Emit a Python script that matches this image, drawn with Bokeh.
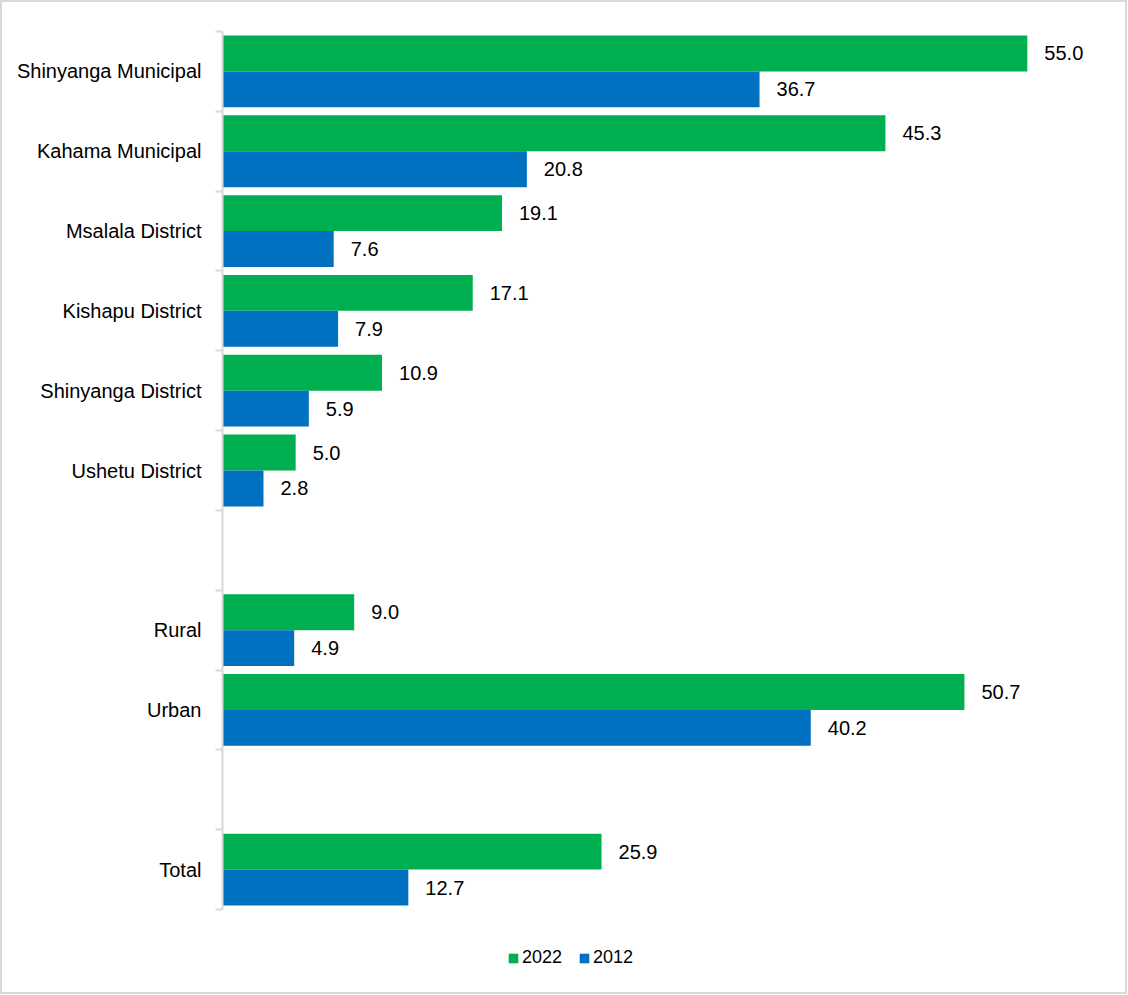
from bokeh.plotting import figure
from bokeh.models import Range1d, FixedTicker, ColumnDataSource, Legend, LegendItem
from bokeh.core.properties import value
from bokeh.embed import file_html
from bokeh.resources import INLINE

# Data (blank strings are spacer rows in the chart)
categories = ["Shinyanga Municipal", "Kahama Municipal", "Msalala District",
              "Kishapu District", "Shinyanga District", "Ushetu District", "",
              "Rural", "Urban", "", "Total"]
values_2022 = [55.0, 45.3, 19.1, 17.1, 10.9, 5.0, 9.0, 50.7, 25.9]
values_2012 = [36.7, 20.8, 7.6, 7.9, 5.9, 2.8, 4.9, 40.2, 12.7]
series_names = ["2022", "2012"]
colors = ["#00B050", "#0070C0"]

FONT = "Liberation Sans"

# layout (pixels)
W, H = 1127, 994
LEFT, TOP = 220, 29
CAT_PX = 878                      # height taken by the category rows
FRAME_W = 878
RIGHT = W - LEFT - FRAME_W
FRAME_H = H - TOP                 # frame runs to the bottom so the legend sits inside

slots = [i for i, c in enumerate(categories) if c != ""]
labels = [c for c in categories if c != ""]
n = len(categories)
y_extent = n * FRAME_H / CAT_PX

src22 = ColumnDataSource(dict(
    y=[s + 0.275 for s in slots], v=values_2022,
    t=[f"{v:.1f}" for v in values_2022]))
src12 = ColumnDataSource(dict(
    y=[s + 0.725 for s in slots], v=values_2012,
    t=[f"{v:.1f}" for v in values_2012]))

p = figure(width=W, height=H, output_backend="svg", toolbar_location=None,
           x_range=Range1d(0, 60), y_range=Range1d(y_extent, 0),
           min_border_left=LEFT, min_border_right=RIGHT,
           min_border_top=TOP, min_border_bottom=0,
           x_axis_location=None)
p.styles = {"border": "2px solid #d9d9d9"}
p.outline_line_color = None
p.xgrid.visible = False
p.ygrid.visible = False

r22 = p.hbar(y="y", right="v", left=0, height=0.45, source=src22,
             fill_color=colors[0], line_color=None)
r12 = p.hbar(y="y", right="v", left=0, height=0.45, source=src12,
             fill_color=colors[1], line_color=None)

for src in (src22, src12):
    p.text(x="v", y="y", text="t", source=src, x_offset=17,
           text_align="left", text_baseline="middle",
           text_font=value(FONT), text_font_size="20px", text_color="#000000")

ax = p.yaxis[0]
ax.bounds = (0, n)
ax.ticker = FixedTicker(ticks=[s + 0.5 for s in slots],
                        minor_ticks=list(range(n + 1)))
ax.major_label_overrides = {s + 0.5: lab for s, lab in zip(slots, labels)}
ax.major_tick_line_color = None
ax.major_tick_out = 0
ax.major_tick_in = 0
ax.minor_tick_line_color = "#d9d9d9"
ax.minor_tick_line_width = 2
ax.minor_tick_out = 7
ax.minor_tick_in = 0
ax.axis_line_color = "#d9d9d9"
ax.axis_line_width = 2
ax.major_label_standoff = 14
ax.major_label_text_font = FONT
ax.major_label_text_font_size = "20px"
ax.major_label_text_color = "#000000"

legend = Legend(items=[LegendItem(label=series_names[0], renderers=[r22]),
                       LegendItem(label=series_names[1], renderers=[r12])],
                orientation="horizontal", location=(285, 28),
                glyph_width=12, glyph_height=12, label_standoff=3, spacing=16,
                label_text_font=FONT, label_text_font_size="18px",
                label_text_color="#000000", border_line_color=None,
                background_fill_alpha=0, padding=0, margin=0)
p.add_layout(legend, "center")

open("out.html", "w").write(file_html(p, INLINE))
